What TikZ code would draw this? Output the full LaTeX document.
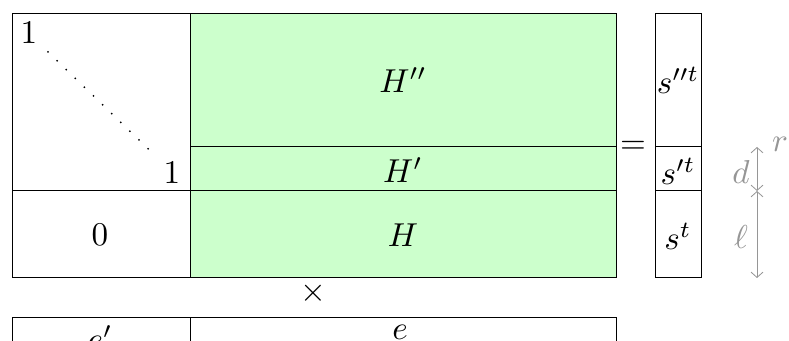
\documentclass[tikz,border=0pt]{standalone}
\usepackage{amsmath,amssymb}
\usepackage{xcolor}
\usepackage{tikz}
\usetikzlibrary{arrows.meta, positioning, calc}
\definecolor{blocvert}{RGB}{204,255,204}
\definecolor{mesuregris}{RGB}{150,150,150}

\begin{document}
\begin{tikzpicture}[x=0.0106cm, y=-0.0106cm, line width=0.3pt,
    txt/.style={inner sep=0pt},
    mesure/.style={draw=mesuregris, line width=0.25pt,
        {Straight Barb[length=1.6pt,width=3.6pt]}-{Straight Barb[length=1.6pt,width=3.6pt]}},
    mlabel/.style={inner sep=0pt, text=mesuregris}]
    \clip (0,0) rectangle (789,341);
    \useasboundingbox (0,0) rectangle (789,341);

    % Matrice
    \fill[blocvert] (190,14) rectangle (616,278);
    \draw (12,14) rectangle (616,278);
    \draw (190,14) -- (190,278);
    \draw (190,147) -- (616,147);
    \draw (12,191) -- (616,191);

    \node[txt] (un1) at (29,33) {$1$};
    \node[txt] (un2) at (172,173) {$1$};
    \foreach \i in {0,...,11}
        \fill ($(48,52)+(\i*9.1,\i*8.8)$) circle (0.3pt);
    \node[txt] (zero) at (100,235) {$0$};
    \node[txt] (Hss) at (403,80) {$H''$};
    \node[txt] (Hs) at (403,170) {$H'$};
    \node[txt] (H) at (403,235) {$H$};

    \node[txt] (egal) at (633,147) {$=$};

    % Vecteur s
    \draw (655,14) rectangle (701,278);
    \draw (655,147) -- (701,147);
    \draw (655,191) -- (701,191);
    \node[txt] (sss) at (678,80) {$s''^t$};
    \node[txt] (ss) at (678,171) {$s'^t$};
    \node[txt] (s) at (678,236) {$s^t$};

    % Tailles
    \coordinate (hautr) at (757,147);
    \coordinate (milieu) at (757,191);
    \coordinate (basl) at (757,278);
    \draw[mesure] (hautr) -- (milieu);
    \draw[mesure] (milieu) -- (basl);
    \node[mlabel] (d) at (741,172) {$d$};
    \node[mlabel] (l) at (741,237) {$\ell$};
    \node[mlabel] (r) at (780,144) {$r$};

    \node[txt] (fois) at (313,293) {$\times$};

    % Vecteur e
    \draw (12,318) rectangle (616,370);
    \draw (190,318) -- (190,370);
    \node[txt] (ess) at (100,338) {$e'$};
    \node[txt] (e) at (400,332) {$e$};
\end{tikzpicture}
\end{document}
